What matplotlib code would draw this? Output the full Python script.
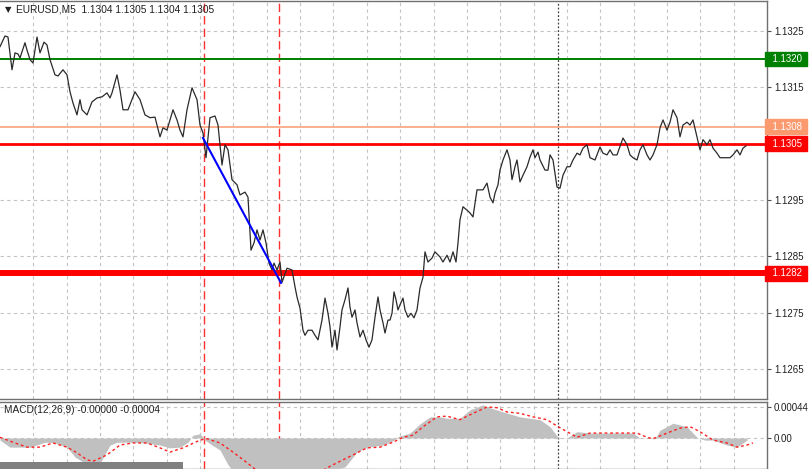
import matplotlib.pyplot as plt
from matplotlib.patches import Rectangle
import numpy as np

# EURUSD M5 close prices (bar position, price)
bars = [0, 5, 8, 12, 15, 18, 20, 25, 27, 30, 33, 37, 40, 44, 47, 50, 55, 58, 63, 67,
        70, 73, 77, 80, 82, 87, 92, 97, 102, 107, 110, 112, 117, 120, 123, 128, 135, 140, 145, 150,
        155, 160, 163, 167, 173, 177, 180, 183, 187, 192, 197, 200, 203, 206, 210, 215, 218, 222, 225, 228,
        232, 237, 240, 245, 248, 251, 254, 257, 260, 263, 266, 269, 272, 274, 277, 280, 282, 287, 292, 295,
        297, 300, 303, 305, 308, 312, 315, 318, 322, 325, 328, 330, 332, 335, 337, 340, 342, 345, 348, 350,
        352, 355, 357, 360, 363, 366, 369, 372, 375, 378, 380, 383, 385, 388, 390, 392, 394, 396, 398, 400,
        403, 405, 408, 411, 414, 417, 420, 423, 425, 428, 432, 435, 440, 443, 447, 450, 453, 456, 458, 460,
        463, 467, 470, 473, 477, 483, 487, 490, 493, 495, 498, 500, 503, 507, 510, 512, 515, 517, 520, 523,
        527, 530, 533, 535, 538, 540, 545, 548, 550, 553, 557, 560, 563, 567, 570, 573, 577, 580, 583, 587,
        590, 595, 600, 603, 607, 610, 613, 617, 623, 627, 630, 633, 637, 640, 643, 647, 650, 653, 657, 660,
        663, 667, 670, 673, 677, 680, 683, 687, 690, 693, 697, 700, 703, 707, 710, 713, 717, 720, 725, 730,
        733, 737, 740, 743, 746]
close = [1.13222, 1.13241, 1.13239, 1.13181, 1.13211, 1.13209, 1.13202, 1.13229, 1.13216, 1.13199,
         1.13193, 1.13239, 1.13211, 1.13230, 1.13225, 1.13199, 1.13172, 1.13170, 1.13181, 1.13172,
         1.13142, 1.13122, 1.13101, 1.13128, 1.13110, 1.13101, 1.13124, 1.13131, 1.13133, 1.13140,
         1.13131, 1.13140, 1.13172, 1.13145, 1.13110, 1.13110, 1.13142, 1.13128, 1.13101, 1.13096,
         1.13097, 1.13062, 1.13078, 1.13074, 1.13110, 1.13092, 1.13074, 1.13062, 1.13110, 1.13149,
         1.13128, 1.13083, 1.13069, 1.13025, 1.13096, 1.13099, 1.13083, 1.13012, 1.13048, 1.13039,
         1.12986, 1.12977, 1.12959, 1.12964, 1.12955, 1.12861, 1.12874, 1.12897, 1.12879, 1.12897,
         1.12874, 1.12838, 1.12826, 1.12838, 1.12826, 1.12840, 1.12804, 1.12829, 1.12826, 1.12796,
         1.12778, 1.12758, 1.12719, 1.12710, 1.12719, 1.12719, 1.12710, 1.12702, 1.12737, 1.12776,
         1.12749, 1.12725, 1.12689, 1.12719, 1.12684, 1.12725, 1.12755, 1.12773, 1.12794, 1.12760,
         1.12742, 1.12755, 1.12732, 1.12707, 1.12719, 1.12702, 1.12689, 1.12702, 1.12742, 1.12778,
         1.12755, 1.12732, 1.12714, 1.12737, 1.12737, 1.12749, 1.12787, 1.12773, 1.12755, 1.12764,
         1.12776, 1.12755, 1.12742, 1.12749, 1.12741, 1.12755, 1.12794, 1.12813, 1.12858, 1.12840,
         1.12847, 1.12858, 1.12849, 1.12840, 1.12852, 1.12840, 1.12858, 1.12840, 1.12874, 1.12915,
         1.12938, 1.12932, 1.12927, 1.12920, 1.12968, 1.12968, 1.12980, 1.12955, 1.12945, 1.12962,
         1.12977, 1.13003, 1.13021, 1.13039, 1.13021, 1.12986, 1.13009, 1.13021, 1.12982, 1.12994,
         1.13009, 1.13026, 1.13039, 1.13025, 1.13035, 1.13021, 1.13003, 1.13003, 1.13030, 1.13021,
         1.12973, 1.12971, 1.12994, 1.13009, 1.13009, 1.13021, 1.13033, 1.13030, 1.13042, 1.13048,
         1.13025, 1.13021, 1.13044, 1.13033, 1.13030, 1.13039, 1.13030, 1.13030, 1.13060, 1.13048,
         1.13030, 1.13025, 1.13021, 1.13039, 1.13048, 1.13030, 1.13021, 1.13030, 1.13048, 1.13078,
         1.13092, 1.13074, 1.13088, 1.13110, 1.13096, 1.13062, 1.13083, 1.13088, 1.13083, 1.13092,
         1.13062, 1.13039, 1.13057, 1.13048, 1.13057, 1.13042, 1.13033, 1.13025, 1.13025, 1.13025,
         1.13030, 1.13039, 1.13030, 1.13042, 1.13046]

# MACD(12,26,9) histogram and signal line
macd_bars = [0, 10, 30, 45, 55, 67, 75, 83, 90, 100, 110, 117, 130, 145, 160, 170, 180, 188, 193, 200,
             205, 212, 220, 228, 240, 260, 280, 300, 320, 335, 345, 357, 367, 383, 393, 398, 410, 420, 430, 440,
             447, 460, 470, 483, 490, 503, 520, 540, 550, 558, 567, 577, 590, 633, 640, 655, 660, 673, 687, 697,
             705, 713, 727, 737, 747]
macd_hist = [-0.00003, -0.00013, -0.00013, -0.00006, -0.00007, -0.00013, -0.00027, -0.00034, -0.00040, -0.00036,
             -0.00010, -0.00006, -0.00006, -0.00007, -0.00010, -0.00014, -0.00013, -0.00006, 0.00004, 0.00006,
             -0.00003, -0.00010, -0.00017, -0.00038, -0.00060, -0.00075, -0.00080, -0.00075, -0.00060, -0.00045,
             -0.00041, -0.00020, -0.00013, -0.00010, -0.00004, 0.00002, 0.00007, 0.00020, 0.00030, 0.00030,
             0.00028, 0.00028, 0.00040, 0.00047, 0.00043, 0.00037, 0.00030, 0.00026, 0.00016, 0.00001,
             0.00000, 0.00009, 0.00007, 0.00007, 0.00000, -0.00001, 0.00011, 0.00021, 0.00016, 0.00001,
             -0.00003, -0.00003, -0.00010, -0.00013, -0.00003]
signal_bars = [0, 13, 27, 40, 53, 67, 77, 87, 93, 107, 120, 133, 147, 160, 170, 183, 200, 207, 220, 233,
               247, 260, 280, 300, 320, 333, 353, 367, 380, 393, 403, 413, 423, 437, 447, 460, 473, 487, 497, 507,
               520, 533, 547, 557, 567, 577, 590, 613, 637, 647, 653, 667, 680, 690, 700, 713, 727, 737, 747, 753]
macd_signal = [0.00001, -0.00006, -0.00013, -0.00013, -0.00007, -0.00013, -0.00021, -0.00031, -0.00033, -0.00024,
               -0.00010, -0.00007, -0.00007, -0.00014, -0.00020, -0.00014, -0.00003, -0.00001, -0.00007, -0.00020,
               -0.00035, -0.00050, -0.00062, -0.00060, -0.00048, -0.00038, -0.00024, -0.00014, -0.00013, -0.00006,
               0.00001, 0.00004, 0.00016, 0.00030, 0.00031, 0.00026, 0.00035, 0.00044, 0.00043, 0.00037,
               0.00035, 0.00030, 0.00026, 0.00017, 0.00009, 0.00001, 0.00007, 0.00007, 0.00007, 0.00001,
               -0.00001, 0.00007, 0.00014, 0.00016, 0.00009, -0.00003, -0.00007, -0.00013, -0.00010, -0.00007]

price_ticks = [1.1265, 1.1275, 1.1285, 1.1295, 1.1305, 1.1315, 1.1325]
price_labels = ['1.1265', '1.1275', '1.1285', '1.1295', '', '1.1315', '1.1325']

# horizontal levels: (price, label, line colour, line width)
levels = [(1.1320, '1.1320', '#008000', 1.4),
          (1.1308, '1.1308', '#fa9a6e', 1.1),
          (1.1305, '1.1305', '#ff0000', 2.0),
          (1.1282, '1.1282', '#ff0000', 4.3)]

trend_bars = [203, 281]
trend_prices = [1.13060, 1.12803]
signal_marks = [204, 279]
day_sep = 558

W, H = 809, 469
plt.rcParams['font.family'] = ['Liberation Sans', 'DejaVu Sans']
fig = plt.figure(figsize=(W / 100, H / 100), dpi=100)

ax = fig.add_axes([0, 1 - 399 / H, 767 / W, 398 / H])
ax2 = fig.add_axes([0, 0, 767 / W, 1 - 402 / H])

grid_x = np.arange(1, 23) * 767 / 23
dash = (0, (3, 3))

for a in (ax, ax2):
    a.set_xlim(0, 767)
    a.set_xticks(grid_x)
    a.tick_params(axis='x', length=0, labelbottom=False)
    a.yaxis.tick_right()
    a.tick_params(axis='y', length=3, width=0.8, color='#505050', labelsize=7, pad=2, labelcolor='#202020')
    a.grid(True, color='#c4c4c4', linestyle=dash, linewidth=0.8)
    a.set_axisbelow(True)
    a.spines['left'].set_visible(False)
    for s in ('top', 'bottom', 'right'):
        a.spines[s].set_color('#707070')
        a.spines[s].set_linewidth(1.0)
    a.axvline(day_sep, color='#404040', linestyle=(0, (1.5, 1.5)), linewidth=0.9, zorder=1)
    for m in signal_marks:
        a.axvline(m, color='#ff3030', linestyle=(0, (6, 3)), linewidth=1.0, zorder=2)

# main price panel
ax.set_ylim(1.12597, 1.13303)
ax.set_yticks(price_ticks)
ax.set_yticklabels(price_labels)
for price, label, col, lw in levels:
    ax.axhline(price, color=col, linewidth=lw, zorder=3)
    ax.text(1.0, price, '  ' + label + ' ', transform=ax.get_yaxis_transform(), fontsize=7, color='white',
            va='center', ha='left', zorder=5, clip_on=False,
            bbox=dict(boxstyle='square,pad=0.25', fc=col, ec=col))
ax.plot(bars, close, color='#2a2a2a', linewidth=0.9, zorder=4)
ax.plot(trend_bars, trend_prices, color='#0000ff', linewidth=1.5, zorder=5)

fig.text(5 / W, 1 - 10 / H, '\u25bc', fontsize=6, va='center', ha='left', color='#202020',
         family='DejaVu Sans')
fig.text(16 / W, 1 - 10 / H, 'EURUSD,M5  1.1304 1.1305 1.1304 1.1305', fontsize=7.3,
         va='center', ha='left', color='#202020')

# MACD panel
ax2.set_ylim(-0.00044, 0.000511)
ax2.set_yticks([0, 0.00044])
ax2.set_yticklabels(['0.00', '0.00044'])
ax2.fill_between(macd_bars, macd_hist, 0, color='#c0c0c0', linewidth=0, zorder=3)
ax2.plot(signal_bars, macd_signal, color='#ff2020', linestyle=(0, (2, 2)), linewidth=1.0, zorder=4)
fig.text(4 / W, 1 - 410 / H, 'MACD(12,26,9) -0.00000 -0.00004', fontsize=7.3,
         va='center', ha='left', color='#202020')

fig.patches.append(Rectangle((0, 0), 183 / W, 7 / H, transform=fig.transFigure,
                             facecolor='#808080', edgecolor='none', zorder=10))

fig.savefig('out.png', dpi=100)
